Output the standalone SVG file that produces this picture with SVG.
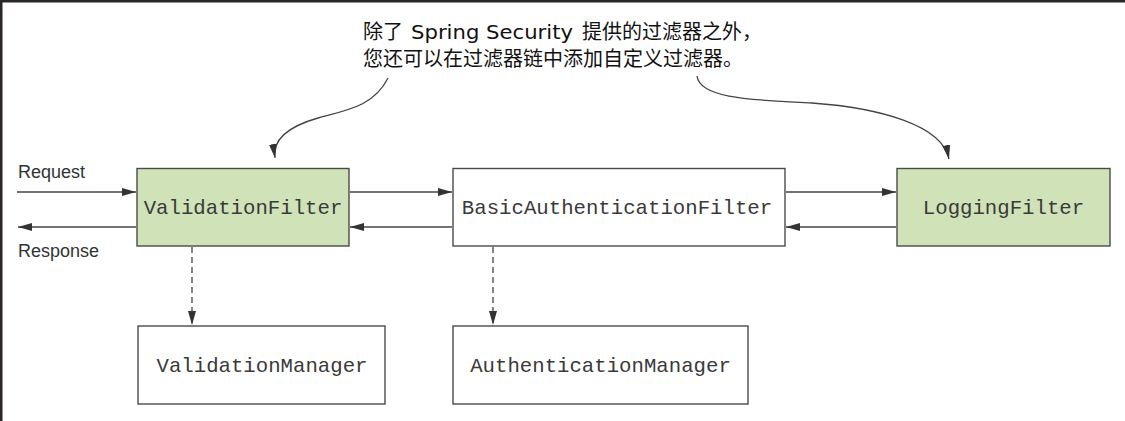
<svg xmlns="http://www.w3.org/2000/svg" width="1125" height="421" viewBox="0 0 1125 421">
<defs>
<style>
.box{stroke:#4a4a4a;stroke-width:1.4}
.green{fill:#cfe2b8}
.white{fill:#ffffff}
.mono{font-family:"Liberation Mono","DejaVu Sans Mono",monospace;font-size:20.7px;fill:#3a3a3a}
.sans{font-family:"Liberation Sans",Arial,sans-serif;font-size:18px;fill:#333}
.cjk{font-family:"Noto Sans CJK SC","Liberation Sans",sans-serif;font-size:20px;fill:#111}
.lat{font-family:"DejaVu Sans","Noto Sans CJK SC",sans-serif;font-size:19px}
.line{stroke:#444;stroke-width:1.3;fill:none}
.dash{stroke:#444;stroke-width:1.3;fill:none;stroke-dasharray:6 4}
</style>
<marker id="ah" viewBox="0 0 14 8" refX="14" refY="4" markerWidth="14" markerHeight="8" markerUnits="userSpaceOnUse" orient="auto">
<path d="M0,0 L14,4 L0,8 Z" fill="#333"/>
</marker>
</defs>
<rect x="0" y="0" width="1125" height="421" fill="#ffffff"/>
<rect x="0" y="0" width="1125" height="2.5" fill="#2b2629"/>
<rect x="0" y="0" width="2.5" height="421" fill="#2b2629"/>

<g id="annotation">
<text class="cjk" x="363" y="39">除了<tspan class="lat" x="411" textLength="162" lengthAdjust="spacingAndGlyphs">Spring Security</tspan><tspan x="582">提供的过滤器之外，</tspan></text>
<text class="cjk" x="363" y="66">您还可以在过滤器链中添加自定义过滤器。</text>
</g>

<g id="labels">
<text class="sans" x="18" y="178">Request</text>
<text class="sans" x="18" y="257">Response</text>
</g>

<g id="validationFilter">
<rect class="box green" x="137" y="168.5" width="212" height="77.5"/>
<text class="mono" x="243" y="214" text-anchor="middle">ValidationFilter</text>
</g>
<g id="basicAuthenticationFilter">
<rect class="box white" x="453" y="168.5" width="332" height="77.5"/>
<text class="mono" x="617" y="214" text-anchor="middle">BasicAuthenticationFilter</text>
</g>
<g id="loggingFilter">
<rect class="box green" x="897" y="168.5" width="213" height="77.5"/>
<text class="mono" x="1003.5" y="214" text-anchor="middle">LoggingFilter</text>
</g>
<g id="validationManager">
<rect class="box white" x="138" y="326" width="247" height="78"/>
<text class="mono" x="262" y="372" text-anchor="middle">ValidationManager</text>
</g>
<g id="authenticationManager">
<rect class="box white" x="453" y="326" width="295" height="78"/>
<text class="mono" x="600.5" y="372" text-anchor="middle">AuthenticationManager</text>
</g>

<g id="connectors">
<line class="line" x1="17" y1="192" x2="136" y2="192" marker-end="url(#ah)"/>
<line class="line" x1="136" y1="227" x2="18" y2="227" marker-end="url(#ah)"/>
<line class="line" x1="350" y1="192" x2="452" y2="192" marker-end="url(#ah)"/>
<line class="line" x1="452" y1="227" x2="350" y2="227" marker-end="url(#ah)"/>
<line class="line" x1="786" y1="192" x2="896" y2="192" marker-end="url(#ah)"/>
<line class="line" x1="896" y1="227" x2="786" y2="227" marker-end="url(#ah)"/>
<line class="dash" x1="192" y1="247" x2="192" y2="325" marker-end="url(#ah)"/>
<line class="dash" x1="493" y1="247" x2="493" y2="325" marker-end="url(#ah)"/>
<path class="line" d="M388,78 C374,106 348,110 318,118 C290,126 272,138 275,158" marker-end="url(#ah)"/>
<path class="line" d="M697,76 C700,100 760,100 812,103 C880,108 942,125 949,159" marker-end="url(#ah)"/>
</g>
</svg>
